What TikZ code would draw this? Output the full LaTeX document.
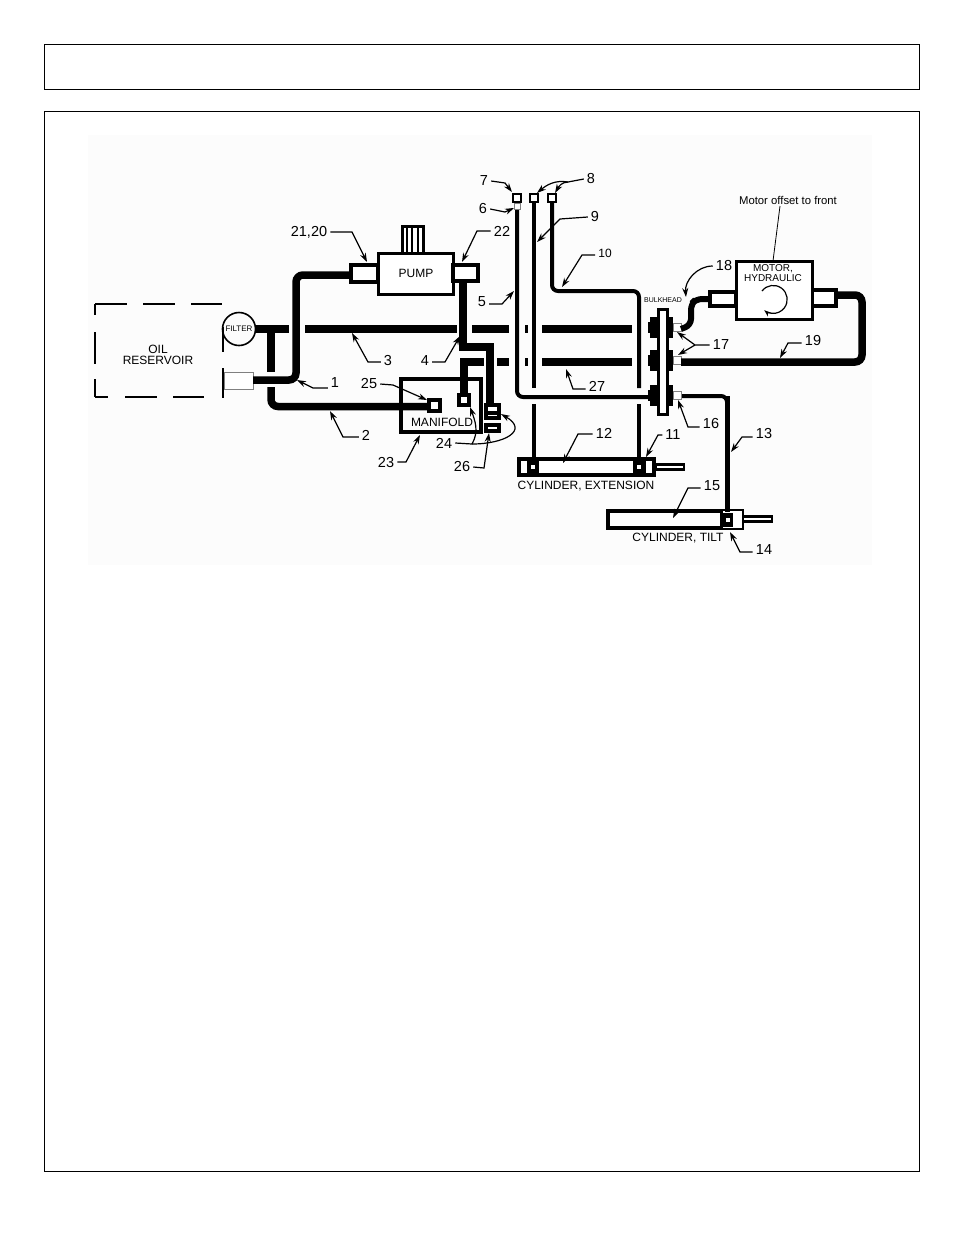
\documentclass[tikz,border=0pt]{standalone}
\usepackage{fontspec}
\setmainfont{Liberation Sans}
\usetikzlibrary{arrows.meta}
\tikzset{
	frame/.style={line width=1pt},
	hose/.style={line width=7.5pt,rounded corners=7pt},
	tube/.style={line width=4pt,rounded corners=6pt},
	fitting/.style={draw,line width=3.5pt,fill=white},
	port/.style={draw,line width=4pt,fill=white},
	plate/.style={draw,line width=3pt,fill=white},
	rod/.style={draw,line width=2.5pt,fill=white},
	num/.style={font=\fontsize{14.5}{15}\selectfont,inner sep=3pt},
	lbl/.style={font=\fontsize{12}{12}\selectfont,inner sep=0pt,align=center},
	leader/.style={line width=1.2pt,-{Stealth[length=9pt,width=6pt]}},
}
\newcommand{\leadline}[3]{%
	\coordinate (k#1) at #2; \coordinate (t#1) at #3;
	\draw[leader] (n#1.west |- k#1) -- (k#1) -- (t#1);}

\begin{document}
\begin{tikzpicture}[x=1pt,y=-1pt]
\useasboundingbox (0,0) rectangle (954,1235);
\draw[frame] (44,44) rectangle (919,89);
\draw[frame] (44,111) rectangle (919,1171);
\fill[gray!2] (88,135) rectangle (872,565);

% reservoir and filter
\foreach \a/\b in {95/127,143/175,191/222} \draw[line width=2.2pt] (\a,304)--(\b,304);
\foreach \a/\b in {304/315,332/364,379/397} \draw[line width=2.2pt] (95,\a)--(95,\b);
\foreach \a/\b in {95/108,125/157,173/204} \draw[line width=2.2pt] (\a,397)--(\b,397);
\draw[line width=2pt] (223,327)--(223,352);
\draw[line width=2pt] (223,368)--(223,398);
\draw[gray,line width=.8pt,fill=white] (224,372) rectangle (253,389);
\node[lbl] (oil) at (158,355) {OIL\\[-1pt]RESERVOIR};
\node[draw,circle,line width=1.6pt,minimum size=33pt,inner sep=0pt,font=\fontsize{8}{8}\selectfont] (filter) at (239,329) {FILTER};

% oil lines
\draw[hose,rounded corners=0pt] (filter.east)--(289,329);
\draw[hose,rounded corners=0pt] (271,329)--(271,372);
\draw[hose] (271,387)--(271,406.5)--(427,406.5);
\draw[hose] (253,380)--(296,380)--(296,275)--(350,275);
\foreach \a/\b in {305/457,472/509,542/632} \draw[hose,rounded corners=0pt] (\a,329)--(\b,329);
\draw[hose,rounded corners=0pt] (463,282)--(463,347)--(490,347)--(490,403);
\draw[hose,rounded corners=0pt] (464,395)--(464,362)--(484,362);
\foreach \a/\b in {497/509,542/632} \draw[hose,rounded corners=0pt] (\a,362)--(\b,362);
\draw[line width=3pt] (526,325)--(526,333);
\draw[line width=3pt] (526,358)--(526,366);

% pump
\draw[plate] (402,226) rectangle (423,253);
\foreach \x in {407,412,418} \draw[line width=1.8pt] (\x,226)--(\x,253);
\draw[plate] (378,253) rectangle (453,294);
\draw[fitting] (351,265) rectangle (378,282);
\draw[fitting] (453,265) rectangle (478,281);
\node[lbl] (pump) at (416,273) {PUMP};

% manifold
\draw[line width=3.5pt] (401,379) rectangle (481,432);
\draw[hose,rounded corners=0pt] (401,406.5)--(427,406.5);
\draw[hose,rounded corners=0pt] (464,379)--(464,395);
\draw[port] (429,400) rectangle (440,411);
\draw[port] (459,395) rectangle (469,405);
\draw[port] (486,405) rectangle (499,413);
\draw[port] (486,413) rectangle (499,418);
\draw[port] (486,425) rectangle (499,431);
\node[lbl] (manifold) at (442,422) {MANIFOLD};

% steel tubes
\draw[tube] (517,203)--(517,397)--(652,397);
\draw[tube,rounded corners=0pt] (534,203)--(534,388);
\draw[tube,rounded corners=0pt] (534,404)--(534,457);
\draw[tube] (552,203)--(552,291)--(639,291)--(639,388);
\draw[tube,rounded corners=0pt] (639,404)--(639,457);
\draw[line width=2pt,fill=white] (513,194) rectangle (521,202);
\draw[gray,line width=1pt,fill=white] (514,203) rectangle (520,209);
\draw[line width=2pt,fill=white] (530,194) rectangle (538,202);
\draw[line width=2pt,fill=white] (548,194) rectangle (556,202);

% extension cylinder
\draw[rod] (656,464.5) rectangle (684,469.5);
\draw[fitting] (519,459) rectangle (654,475);
\draw[line width=14pt] (527,467)--(539,467);
\draw[line width=14pt] (633,467)--(646,467);
\fill[white] (531,465) rectangle (535,469);
\fill[white] (637,465) rectangle (641,469);
\node[lbl] (cylext) at (586,486) {CYLINDER, EXTENSION};

% tilt cylinder
\draw[rod] (743,516.5) rectangle (772,521.5);
\draw[fitting,line width=4pt] (608,511) rectangle (722,528);
\draw[line width=2.5pt,fill=white] (722,510) rectangle (743,529);
\draw[line width=5pt] (727,396)--(727,512);
\draw[tube] (681,396)--(727,396)--(727,415);
\draw[line width=14pt] (722,520)--(733,520);
\fill[white] (725.5,517.5) rectangle (729.5,522);
\node[lbl] (cyltilt) at (678,538) {CYLINDER, TILT};

% bulkhead
\foreach \y in {317,350,385} {
	\fill (650,\y) rectangle (673,\y+21);
	\fill (648,\y+5) rectangle (650,\y+16);
	\draw[gray,line width=1pt,fill=white] (673,\y+6) rectangle (681,\y+14);
}
\draw[plate] (658,309) rectangle (667,414);
\node[font=\fontsize{7}{7}\selectfont,inner sep=0pt] (bulkhead) at (663,300) {BULKHEAD};

% motor
\draw[line width=6pt,rounded corners=6pt] (681,329)--(691,325)--(691,304)--(696,299)--(708,299);
\draw[hose] (681,362)--(862,362)--(862,295)--(837,295);
\draw[fitting] (710,292) rectangle (736,306);
\draw[fitting] (812,290) rectangle (836,306);
\draw[plate] (736,261) rectangle (812,319);
\node[lbl,font=\fontsize{10}{10.5}\selectfont] (motor) at (773,273) {MOTOR,\\HYDRAULIC};
\draw[line width=1.2pt,-{Stealth[length=7pt,width=5pt]}] (762,291) arc (-143:130:14);
\node[font=\fontsize{11.3}{11.3}\selectfont,inner sep=0pt] (offset) at (788,200) {Motor offset to front};
\coordinate (offsetfoot) at (780,206);
\coordinate (motortop) at (773,261);
\draw[line width=.8pt] (offsetfoot)--(motortop);

% callouts
\node[num] (n2120) at (309,232) {21,20};
\coordinate (k2120) at (352,232); \coordinate (t2120) at (367,262);
\draw[leader] (n2120.east)--(k2120)--(t2120);
\node[num] (n22) at (502,231) {22}; \leadline{22}{(477,231)}{(462,262)}
\node[num] (n1) at (335,383) {1}; \leadline{1}{(313,388)}{(297,380)}
\node[num] (n2) at (366,435) {2}; \leadline{2}{(343,437)}{(330,411)}
\node[num] (n3) at (388,361) {3}; \leadline{3}{(368,362)}{(352,333)}
\node[num] (n4) at (425,361) {4};
\coordinate (k4) at (445,362); \coordinate (t4) at (460,336);
\draw[leader] (n4.east |- k4)--(k4)--(t4);
\node[num] (n5) at (482,302) {5};
\coordinate (k5) at (502,304); \coordinate (t5) at (514,291);
\draw[leader] (n5.east |- k5)--(k5)--(t5);
\node[num] (n6) at (483,209) {6};
\coordinate (t6) at (514,208);
\draw[leader] (n6.east)--(505,212)--(t6);
\node[num] (n7) at (484,181) {7};
\coordinate (t7) at (512,192);
\draw[leader] (n7.east)--(505,183)--(t7);
\node[num] (n8) at (591,179) {8};
\coordinate (t8a) at (537,193); \coordinate (t8b) at (555,193);
\draw[leader] (n8.west)--(568,182) to[out=170,in=40] (t8a);
\draw[leader] (568,182) to[out=180,in=60] (t8b);
\node[num] (n9) at (595,217) {9};
\coordinate (t9) at (537,242);
\draw[leader] (n9.west)--(560,219)--(t9);
\node[num,font=\fontsize{12}{12}\selectfont] (n10) at (605,253) {10}; \leadline{10}{(582,255)}{(562,287)}
\node[num] (n11) at (673,435) {11}; \leadline{11}{(658,435)}{(646,457)}
\node[num] (n12) at (604,433) {12}; \leadline{12}{(578,434)}{(563,463)}
\node[num] (n13) at (764,434) {13}; \leadline{13}{(742,437)}{(731,452)}
\node[num] (n14) at (764,550) {14}; \leadline{14}{(740,552)}{(730,532)}
\node[num] (n15) at (712,486) {15}; \leadline{15}{(688,488)}{(673,518)}
\node[num] (n16) at (711,424) {16}; \leadline{16}{(688,427)}{(678,400)}
\node[num] (n17) at (721,345) {17};
\coordinate (k17) at (695,345); \coordinate (t17a) at (677,332); \coordinate (t17b) at (678,355);
\draw[leader] (n17.west)--(k17)--(t17a);
\draw[leader] (k17)--(t17b);
\node[num] (n18) at (724,266) {18};
\coordinate (t18) at (686,297);
\draw[leader] (n18.west) to[out=180,in=95] (t18);
\node[num] (n19) at (813,341) {19}; \leadline{19}{(788,343)}{(780,358)}
\node[num] (n23) at (386,462) {23};
\coordinate (k23) at (406,462); \coordinate (t23) at (420,435);
\draw[leader] (n23.east)--(k23)--(t23);
\node[num] (n24) at (444,443) {24};
\coordinate (t24a) at (470,407); \coordinate (t24b) at (501,414);
\draw[leader] (n24.east)--(472,444) to[out=60,in=-70] (t24a);
\draw[leader] (472,444) to[out=0,in=-30,looseness=2] (t24b);
\node[num] (n25) at (369,384) {25};
\coordinate (t25) at (427,400);
\draw[leader] (n25.east)--(393,385)--(t25);
\node[num] (n26) at (462,467) {26};
\coordinate (t26) at (489,433);
\draw[leader] (n26.east)--(484,468)--(t26);
\node[num] (n27) at (597,386) {27}; \leadline{27}{(573,389)}{(566,369)}
\end{tikzpicture}
\end{document}
